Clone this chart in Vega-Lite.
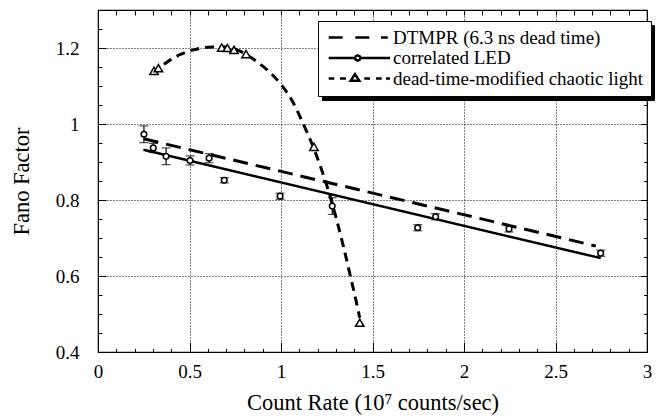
{
  "$schema": "https://vega.github.io/schema/vega-lite/v6.json",
  "width": 549,
  "height": 342,
  "autosize": {"type": "none"},
  "padding": {"left": 98, "top": 10, "right": 9, "bottom": 65},
  "background": "white",
  "config": {
    "view": {"stroke": "black", "strokeWidth": 1.2},
    "font": "Liberation Serif",
    "axis": {
      "labelFont": "Liberation Serif",
      "titleFont": "Liberation Serif",
      "labelColor": "black",
      "titleColor": "black",
      "titleFontWeight": "normal",
      "tickColor": "black",
      "tickWidth": 1,
      "domain": false,
      "labelFlush": false,
      "labelOverlap": false,
      "gridColor": "black",
      "gridDash": [1, 2],
      "gridWidth": 1,
      "gridOpacity": 1
    },
    "legend": {
      "labelFont": "Liberation Serif",
      "labelFontSize": 19,
      "labelColor": "black",
      "labelLimit": 0,
      "symbolSize": 16,
      "symbolStrokeWidth": 2.5,
      "symbolStrokeColor": "black",
      "padding": 7,
      "rowPadding": 0.5,
      "strokeColor": "black"
    }
  },
  "datasets": {
    "dtmpr": [
      {"x": 0.25, "y": 0.961},
      {"x": 2.72, "y": 0.679}
    ],
    "ledfit": [
      {"x": 0.248, "y": 0.932},
      {"x": 2.747, "y": 0.647}
    ],
    "chaoticfit": [
      {"x": 0.36, "y": 1.157},
      {"x": 0.4, "y": 1.17},
      {"x": 0.45, "y": 1.183},
      {"x": 0.52, "y": 1.195},
      {"x": 0.6, "y": 1.202},
      {"x": 0.68, "y": 1.203},
      {"x": 0.76, "y": 1.195},
      {"x": 0.82, "y": 1.18},
      {"x": 0.88, "y": 1.16},
      {"x": 0.95, "y": 1.131},
      {"x": 1.0, "y": 1.104},
      {"x": 1.06, "y": 1.062},
      {"x": 1.12, "y": 1.002},
      {"x": 1.18, "y": 0.935},
      {"x": 1.22, "y": 0.882},
      {"x": 1.26, "y": 0.823},
      {"x": 1.3, "y": 0.755},
      {"x": 1.34, "y": 0.68},
      {"x": 1.38, "y": 0.598},
      {"x": 1.41, "y": 0.535},
      {"x": 1.43, "y": 0.49}
    ],
    "led": [
      {"x": 0.251, "y": 0.973, "lo": 0.951, "hi": 0.995},
      {"x": 0.302, "y": 0.937, "lo": 0.925, "hi": 0.949},
      {"x": 0.372, "y": 0.915, "lo": 0.893, "hi": 0.937},
      {"x": 0.503, "y": 0.904, "lo": 0.892, "hi": 0.916},
      {"x": 0.607, "y": 0.91, "lo": 0.898, "hi": 0.922},
      {"x": 0.69, "y": 0.852, "lo": 0.845, "hi": 0.859},
      {"x": 0.995, "y": 0.81, "lo": 0.802, "hi": 0.818},
      {"x": 1.28, "y": 0.784, "lo": 0.762, "hi": 0.806},
      {"x": 1.747, "y": 0.727, "lo": 0.719, "hi": 0.735},
      {"x": 1.845, "y": 0.756, "lo": 0.748, "hi": 0.764},
      {"x": 2.246, "y": 0.724, "lo": 0.716, "hi": 0.732},
      {"x": 2.747, "y": 0.66, "lo": 0.652, "hi": 0.668}
    ],
    "chaotic": [
      {"x": 0.306, "y": 1.14},
      {"x": 0.33, "y": 1.147},
      {"x": 0.676, "y": 1.201},
      {"x": 0.707, "y": 1.2},
      {"x": 0.743, "y": 1.195},
      {"x": 0.809, "y": 1.184},
      {"x": 1.18, "y": 0.94},
      {"x": 1.43, "y": 0.477}
    ],
    "legendrows": [
      {"series": "DTMPR (6.3 ns dead time)", "series2": "DTMPR (6.3 ns dead time)", "x": 1, "y": 1},
      {"series": "correlated LED", "series2": "correlated LED", "x": 1, "y": 1},
      {"series": "dead-time-modified chaotic light", "series2": "dead-time-modified chaotic light", "x": 1, "y": 1}
    ]
  },
  "layer": [
    {
      "data": {"name": "dtmpr"},
      "mark": {"type": "line", "color": "black", "strokeWidth": 3, "strokeDash": [15, 8]},
      "encoding": {
        "x": {
          "field": "x", "type": "quantitative",
          "scale": {"domain": [0, 3], "nice": false, "zero": false},
          "axis": {
            "orient": "bottom",
            "values": [0, 0.5, 1, 1.5, 2, 2.5, 3],
            "labelExpr": "datum.value + ''",
            "labelFontSize": 19,
            "labelPadding": 10,
            "ticks": false,
            "grid": true,
            "title": "Count Rate (10⁷ counts/sec)",
            "titleFontSize": 22.5,
            "titlePadding": 10
          }
        },
        "y": {
          "field": "y", "type": "quantitative",
          "scale": {"domain": [0.4, 1.3], "nice": false, "zero": false},
          "axis": {
            "orient": "left",
            "values": [0.4, 0.6, 0.8, 1, 1.2],
            "labelExpr": "datum.value + ''",
            "labelFontSize": 19,
            "labelPadding": 19,
            "ticks": false,
            "grid": true,
            "title": "Fano Factor",
            "titleFontSize": 22.5,
            "titlePadding": 22
          }
        }
      }
    },
    {
      "data": {"name": "ledfit"},
      "mark": {"type": "line", "color": "black", "strokeWidth": 2.5},
      "encoding": {
        "x": {
          "field": "x", "type": "quantitative",
          "axis": {
            "orient": "bottom",
            "values": [0, 0.1, 0.2, 0.3, 0.4, 0.5, 0.6, 0.7, 0.8, 0.9, 1, 1.1, 1.2, 1.3, 1.4, 1.5, 1.6, 1.7, 1.8, 1.9, 2, 2.1, 2.2, 2.3, 2.4, 2.5, 2.6, 2.7, 2.8, 2.9, 3],
            "labels": false,
            "grid": false,
            "title": null,
            "tickSize": {"condition": {"test": "round(datum.value*10) % 5 === 0", "value": -10}, "value": -3.5}
          }
        },
        "y": {
          "field": "y", "type": "quantitative",
          "axis": {
            "orient": "left",
            "values": [0.4, 0.45, 0.5, 0.55, 0.6, 0.65, 0.7, 0.75, 0.8, 0.85, 0.9, 0.95, 1, 1.05, 1.1, 1.15, 1.2, 1.25, 1.3],
            "labels": false,
            "grid": false,
            "title": null,
            "tickSize": {"condition": {"test": "round(datum.value*20) % 4 === 0", "value": -8}, "value": -4}
          }
        }
      }
    },
    {
      "data": {"name": "chaoticfit"},
      "mark": {"type": "line", "color": "black", "strokeWidth": 3, "strokeDash": [9, 6], "interpolate": "monotone"},
      "encoding": {
        "x": {
          "field": "x", "type": "quantitative",
          "axis": {
            "orient": "top",
            "values": [0, 0.1, 0.2, 0.3, 0.4, 0.5, 0.6, 0.7, 0.8, 0.9, 1, 1.1, 1.2, 1.3, 1.4, 1.5, 1.6, 1.7, 1.8, 1.9, 2, 2.1, 2.2, 2.3, 2.4, 2.5, 2.6, 2.7, 2.8, 2.9, 3],
            "labels": false,
            "grid": false,
            "title": null,
            "tickSize": -5
          }
        },
        "y": {
          "field": "y", "type": "quantitative",
          "axis": {
            "orient": "right",
            "values": [0.4, 0.45, 0.5, 0.55, 0.6, 0.65, 0.7, 0.75, 0.8, 0.85, 0.9, 0.95, 1, 1.05, 1.1, 1.15, 1.2, 1.25, 1.3],
            "labels": false,
            "grid": false,
            "title": null,
            "tickSize": {"condition": {"test": "round(datum.value*20) % 4 === 0", "value": -7}, "value": -3.5}
          }
        }
      }
    },
    {
      "data": {"name": "led"},
      "mark": {"type": "errorbar", "ticks": true, "size": 9, "thickness": 1.2, "color": "black"},
      "encoding": {
        "x": {"field": "x", "type": "quantitative", "axis": null},
        "y": {"field": "lo", "type": "quantitative", "axis": null},
        "y2": {"field": "hi"}
      }
    },
    {
      "data": {"name": "led"},
      "mark": {"type": "point", "shape": "circle", "size": 32, "filled": true, "fill": "white", "stroke": "black", "strokeWidth": 1.5, "opacity": 1},
      "encoding": {
        "x": {"field": "x", "type": "quantitative", "axis": null},
        "y": {"field": "y", "type": "quantitative", "axis": null}
      }
    },
    {
      "data": {"name": "chaotic"},
      "mark": {"type": "point", "shape": "triangle-up", "size": 70, "filled": true, "fill": "white", "stroke": "black", "strokeWidth": 1.5, "opacity": 1},
      "encoding": {
        "x": {"field": "x", "type": "quantitative", "axis": null},
        "y": {"field": "y", "type": "quantitative", "axis": null}
      }
    },
    {
      "data": {"name": "legendrows"},
      "mark": {"type": "point", "filled": false, "opacity": 0},
      "encoding": {
        "x": {"field": "x", "type": "quantitative", "axis": null},
        "y": {"field": "y", "type": "quantitative", "axis": null},
        "color": {
          "field": "series2", "type": "nominal",
          "scale": {
            "domain": ["correlated LED", "DTMPR (6.3 ns dead time)", "dead-time-modified chaotic light"],
            "range": ["black", "black", "black"]
          },
          "legend": {
            "title": null,
            "orient": "none",
            "legendX": 224,
            "legendY": 15,
            "zindex": 1,
            "fillColor": "black",
            "strokeColor": "black",
            "symbolOpacity": 0,
            "labelExpr": "''",
            "labelOffset": 299
          }
        },
        "shape": {
          "field": "series", "type": "nominal",
          "scale": {
            "domain": ["DTMPR (6.3 ns dead time)", "correlated LED", "dead-time-modified chaotic light"],
            "range": [
              "M-2.9,0H4.1M10.4,0H17.4M23.25,0H26.6",
              "M-2.9,0H10.25M12.95,0H27.75M12.95,0L12.55,0.955L11.6,1.35L10.65,0.955L10.25,0L10.65,-0.955L11.6,-1.35L12.55,-0.955Z",
              "M-2.9,0H-0.1M2.75,0H5.75M14.9,0H17.75M20.75,0H23.6M25.75,0H27.75M10.25,-2.2L12.4,1.15L8.1,1.15Z"
            ]
          },
          "legend": {
            "title": null,
            "orient": "none",
            "legendX": 220,
            "legendY": 11,
            "zindex": 2,
            "fillColor": "white",
            "strokeColor": "black",
            "symbolOpacity": 1,
            "symbolStrokeColor": "black",
            "symbolFillColor": "white",
            "labelOffset": 49
          }
        }
      }
    }
  ],
  "resolve": {"axis": {"x": "independent", "y": "independent"}}
}
